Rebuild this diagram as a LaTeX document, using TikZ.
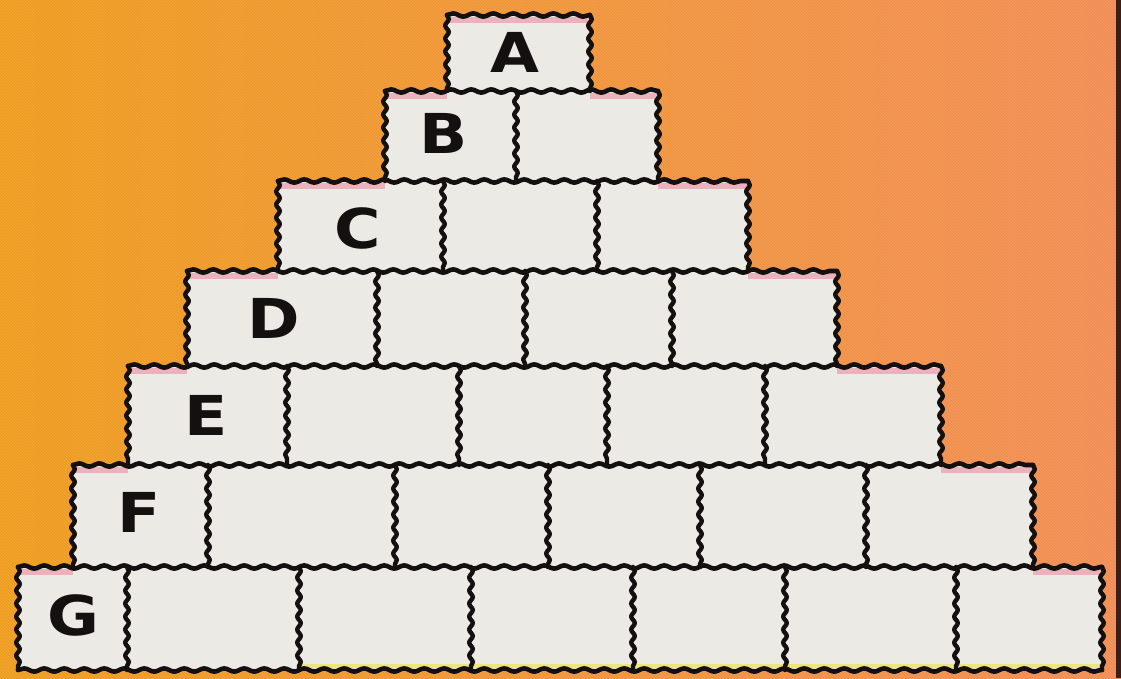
\documentclass[tikz,border=0pt]{standalone}
\usepackage{fontspec}
\newfontfamily\labfont{DejaVu Sans}[FakeStretch=1.15]
\usetikzlibrary{decorations.pathmorphing,patterns}
\definecolor{bgL}{RGB}{238,156,28}
\definecolor{bgM}{RGB}{240,148,55}
\definecolor{bgR}{RGB}{241,140,82}
\definecolor{cellgray}{RGB}{236,234,229}
\definecolor{ink}{RGB}{20,16,16}
\definecolor{tintpink}{RGB}{238,110,140}
\definecolor{tintyellow}{RGB}{240,225,40}
\definecolor{edgedark}{RGB}{60,30,20}
\tikzset{
  cell/.style={fill=cellgray, inner sep=0pt, outer sep=0pt, anchor=north west},
  lab/.style={inner sep=0pt, font=\labfont\bfseries\fontsize{55}{55}\selectfont, text=ink},
  hwavy/.style={draw=ink, line width=4.6pt, line cap=round, line join=round,
    decorate, decoration={snake, segment length=20pt, amplitude=1.6pt}},
  vwavy/.style={draw=ink, line width=4.4pt, line cap=round, line join=round,
    decorate, decoration={snake, segment length=13pt, amplitude=1.8pt}},
  pinktint/.style={draw=tintpink, line width=6pt, opacity=0.45},
}
\newcommand{\pcell}[5]{\node[cell, minimum width={(#3-#2)*1pt}, minimum height={(#5-#4)*1pt}] (#1) at (#2,#4) {};}
\begin{document}
\begin{tikzpicture}[x=1pt,y=-1pt]
\useasboundingbox (0,0) rectangle (1121,678);
% background
\shade[left color=bgL, right color=bgR, middle color=bgM] (0,0) rectangle (1121,678);
\fill[pattern=north west lines, pattern color=white, opacity=0.15] (0,0) rectangle (1121,678);
\fill[edgedark] (1116,0) rectangle (1121,678);
% cells
% row A
\pcell{A1}{447}{590}{15}{91}
% row B
\pcell{B1}{385}{516}{91}{181}
\pcell{B2}{516}{658}{91}{181}
% row C
\pcell{C1}{278}{443}{181}{271}
\pcell{C2}{443}{597}{181}{271}
\pcell{C3}{597}{748}{181}{271}
% row D
\pcell{D1}{187}{377}{271}{366}
\pcell{D2}{377}{525}{271}{366}
\pcell{D3}{525}{672}{271}{366}
\pcell{D4}{672}{837}{271}{366}
% row E
\pcell{E1}{128}{287}{366}{465}
\pcell{E2}{287}{459}{366}{465}
\pcell{E3}{459}{607}{366}{465}
\pcell{E4}{607}{765}{366}{465}
\pcell{E5}{765}{941}{366}{465}
% row F
\pcell{F1}{73}{208}{465}{567}
\pcell{F2}{208}{395}{465}{567}
\pcell{F3}{395}{548}{465}{567}
\pcell{F4}{548}{700}{465}{567}
\pcell{F5}{700}{866}{465}{567}
\pcell{F6}{866}{1033}{465}{567}
% row G
\pcell{G1}{18}{127}{567}{670}
\pcell{G2}{127}{299}{567}{670}
\pcell{G3}{299}{471}{567}{670}
\pcell{G4}{471}{633}{567}{670}
\pcell{G5}{633}{785}{567}{670}
\pcell{G6}{785}{956}{567}{670}
\pcell{G7}{956}{1102}{567}{670}
% tints on exposed tops
\draw[pinktint] ([yshift=-5pt]A1.north west) -- ([yshift=-5pt]A1.north east);
\draw[pinktint] ([yshift=-5pt]B1.north west) -- ([yshift=-5pt]A1.south west);
\draw[pinktint] ([yshift=-5pt]A1.south east) -- ([yshift=-5pt]B2.north east);
\draw[pinktint] ([yshift=-5pt]C1.north west) -- ([yshift=-5pt]B1.south west);
\draw[pinktint] ([yshift=-5pt]B2.south east) -- ([yshift=-5pt]C3.north east);
\draw[pinktint] ([yshift=-5pt]D1.north west) -- ([yshift=-5pt]C1.south west);
\draw[pinktint] ([yshift=-5pt]C3.south east) -- ([yshift=-5pt]D4.north east);
\draw[pinktint] ([yshift=-5pt]E1.north west) -- ([yshift=-5pt]D1.south west);
\draw[pinktint] ([yshift=-5pt]D4.south east) -- ([yshift=-5pt]E5.north east);
\draw[pinktint] ([yshift=-5pt]F1.north west) -- ([yshift=-5pt]E1.south west);
\draw[pinktint] ([yshift=-5pt]E5.south east) -- ([yshift=-5pt]F6.north east);
\draw[pinktint] ([yshift=-5pt]G1.north west) -- ([yshift=-5pt]F1.south west);
\draw[pinktint] ([yshift=-5pt]F6.south east) -- ([yshift=-5pt]G7.north east);
\draw[draw=tintyellow, line width=4pt, opacity=0.55] ([yshift=4pt]G3.south west) -- ([yshift=4pt]G7.south east);
% row tops
\draw[hwavy] (A1.north west) -- (A1.north east);
\draw[hwavy] (B1.north west) -- (B2.north east);
\draw[hwavy] (C1.north west) -- (C3.north east);
\draw[hwavy] (D1.north west) -- (D4.north east);
\draw[hwavy] (E1.north west) -- (E5.north east);
\draw[hwavy] (F1.north west) -- (F6.north east);
\draw[hwavy] (G1.north west) -- (G7.north east);
\draw[hwavy] (G1.south west) -- (G7.south east);
% row sides
\foreach \l/\r in {A1/A1,B1/B2,C1/C3,D1/D4,E1/E5,F1/F6,G1/G7}{
  \draw[vwavy] (\l.north west) -- (\l.south west);
  \draw[vwavy] (\r.north east) -- (\r.south east);
}
% dividers
\foreach \c in {B1,C1,C2,D1,D2,D3,E1,E2,E3,E4,F1,F2,F3,F4,F5,G1,G2,G3,G4,G5,G6}{
  \draw[vwavy] (\c.north east) -- (\c.south east);
}
% labels
\node[lab] (labA) at (515,52) {A};
\node[lab] (labB) at (444,133) {B};
\node[lab] (labC) at (358,228) {C};
\node[lab] (labD) at (274,318) {D};
\node[lab] (labE) at (206,415) {E};
\node[lab] (labF) at (139,512) {F};
\node[lab] (labG) at (73,615) {G};
\end{tikzpicture}
\end{document}
